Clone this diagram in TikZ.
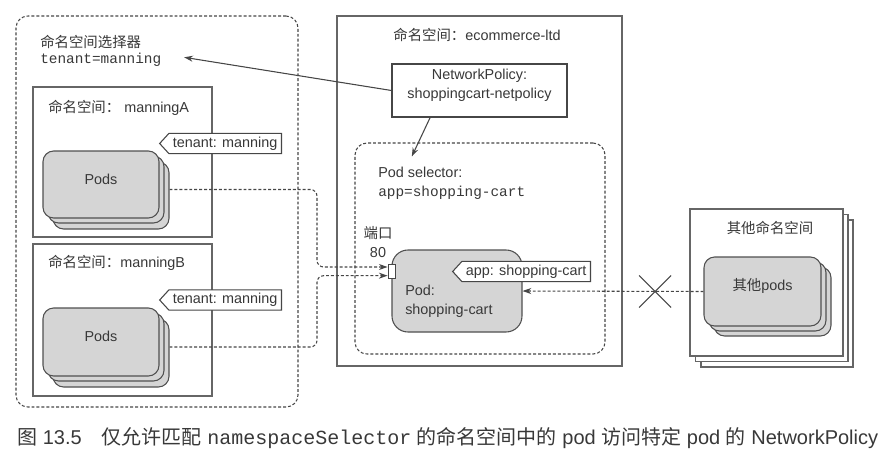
\documentclass[tikz,border=0pt]{standalone}
\usepackage{fontspec}
\setmainfont{Liberation Sans}
\setmonofont{Liberation Mono}
\newfontfamily\cjk{Noto Sans CJK SC}
\usepackage{tikz}
\usetikzlibrary{positioning, arrows.meta, fit, shapes.symbols}
\definecolor{inkGray}{HTML}{383838}
\definecolor{lineGray}{HTML}{464646}
\definecolor{boxGray}{HTML}{666666}
\definecolor{podFill}{HTML}{d5d5d5}
\definecolor{podLine}{HTML}{505050}
\newcommand{\zh}[1]{{\cjk #1}}

\begin{document}
\begin{tikzpicture}[x=0.75pt, y=-0.75pt,
  txt/.style={font=\fontsize{10.8}{14.25}\selectfont, text=inkGray, inner sep=0pt},
  mono/.style={txt, font=\ttfamily\fontsize{10.8}{14.25}\selectfont},
  nsbox/.style={draw=boxGray, line width=0.8pt, fill=white, inner sep=0pt},
  selbox/.style={draw=lineGray, line width=0.8pt, dash pattern=on 2.2pt off 1.5pt, rounded corners=9pt, inner sep=0pt},
  podbox/.style={draw=podLine, line width=0.8pt, fill=podFill, rounded corners=8pt, txt},
  tagbox/.style={signal, signal to=west, signal pointer angle=95, draw=lineGray, line width=0.8pt, fill=white, txt, inner xsep=3pt, inner ysep=2.5pt, minimum height=14.5pt},
  arr/.style={-{Stealth[length=6.5pt, width=4.5pt]}, line width=0.8pt, draw=lineGray},
  darr/.style={arr, dash pattern=on 2.2pt off 1.5pt, rounded corners=5pt}]
\useasboundingbox (0,0) rectangle (887,464);
% namespace selector side
\node[selbox, fit={(16,16) (298,407)}] (nssel) {};
\node[txt, anchor=west] (seltitle) at (40,42) {\zh{命名空间选择器}};
\node[mono, anchor=west] (selexpr) at (40,60) {tenant=manning};
\node[nsbox, fit={(33,87) (212,237)}] (nsA) {};
\node[txt, anchor=west] (nsAtitle) at (48,108) {\zh{命名空间：} manningA};
\node[tagbox, anchor=east] (tagA) at (282,143.5) {tenant: manning};
\node[podbox, fit={(53,162) (169,229)}] (podsA3) {};
\node[podbox, fit={(48,156) (164,223)}] (podsA2) {};
\node[podbox, fit={(43,151) (159,218)}] (podsA) {Pods};
\node[nsbox, fit={(33,244) (212,396)}] (nsB) {};
\node[txt, anchor=west] (nsBtitle) at (48,263) {\zh{命名空间：}manningB};
\node[tagbox, anchor=east] (tagB) at (282,300) {tenant: manning};
\node[podbox, fit={(53,319) (169,387)}] (podsB3) {};
\node[podbox, fit={(48,313) (164,381)}] (podsB2) {};
\node[podbox, fit={(43,308) (159,376)}] (podsB) {Pods};
% ecommerce-ltd namespace
\node[nsbox, fit={(337,16) (622,366)}] (nsShop) {};
\node[txt] (shoptitle) at (477,35) {\zh{命名空间：}ecommerce-ltd};
\node[nsbox, draw=lineGray, fit={(392,64) (567,117)}, txt, align=center] (np) {NetworkPolicy:\\shoppingcart-netpolicy};
\node[selbox, fit={(355,143) (605,354)}] (podsel) {};
\node[txt, anchor=west] (podseltitle) at (378,172) {Pod selector:};
\node[mono, anchor=west] (podselexpr) at (378,193) {app=shopping-cart};
\node[txt, align=center] (portlbl) at (378,242.5) {\zh{端口}\\80};
\node[podbox, rounded corners=12pt, fit={(392,250) (522,332)}] (pod) {};
\node[txt, anchor=west, align=left] (podtxt) at (405,301) {Pod:\\shopping-cart};
\node[draw=lineGray, fill=white, line width=0.7pt, inner sep=0pt, fit={(388,264) (395,278)}] (port) {};
\node[tagbox, anchor=east] (tagApp) at (591,271.5) {app: shopping-cart};
% other namespaces
\node[nsbox, fit={(701,220) (853,367)}] (other3) {};
\node[nsbox, fit={(695.5,214.5) (848,361.5)}] (other2) {};
\node[nsbox, fit={(690,209) (843,356)}] (other) {};
\node[txt] (othertitle) at (770,228) {\zh{其他命名空间}};
\node[podbox, fit={(714,267) (831,336)}] (otherpods3) {};
\node[podbox, fit={(709,262) (826,331)}] (otherpods2) {};
\node[podbox, fit={(704,257) (821,326)}] (otherpods) {\zh{其他}pods};
% connectors
\draw[arr] (np.west) -- ([xshift=17pt, yshift=2pt]selexpr.east);
\draw[arr] ([xshift=29pt]np.south west) -- ([xshift=43pt, yshift=-10.5pt]podsel.north west);
\coordinate (bend) at (317,0);
\coordinate (startA) at (podsA2.east -| podsA3.east);
\coordinate (startB) at (podsB2.east -| podsB3.east);
\coordinate (inA) at ([yshift=3pt]port.west);
\coordinate (inB) at ([yshift=-3.5pt]port.west);
\draw[darr] (startA) -| (bend |- inA) -- (inA);
\draw[darr] (startB) -| (bend |- inB) -- (inB);
\draw[darr] (otherpods.west) -- (pod.east);
\coordinate (block) at (655,291.5);
\draw[lineGray, line width=0.8pt] ([shift={(-12pt,-12pt)}]block) -- ([shift={(12pt,12pt)}]block);
\draw[lineGray, line width=0.8pt] ([shift={(-12pt,12pt)}]block) -- ([shift={(12pt,-12pt)}]block);
% caption
\node[font=\fontsize{15}{18}\selectfont, text=inkGray, inner sep=0pt, anchor=west] (caption) at (17,438)
  {\zh{图} 13.5\quad\zh{仅允许匹配} \texttt{namespaceSelector} \zh{的命名空间中的} pod \zh{访问特定} pod \zh{的} NetworkPolicy};
\end{tikzpicture}
\end{document}
